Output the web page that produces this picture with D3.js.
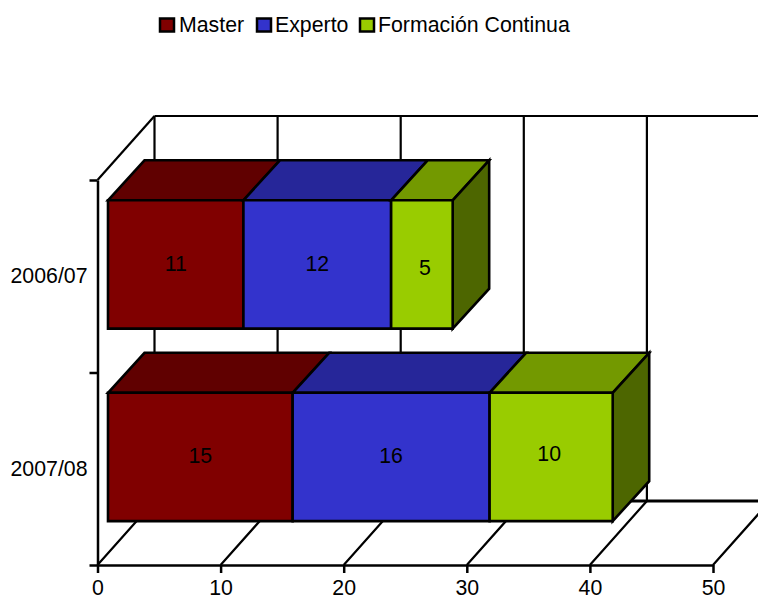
<!DOCTYPE html>
<html><head><meta charset="utf-8">
<script src="https://cdn.jsdelivr.net/npm/d3@7"></script>
<style>
html,body{margin:0;padding:0;background:#fff}
svg{display:block}
text{font-family:"Liberation Sans",Arial,sans-serif;fill:#000}
</style></head><body><div id="c"></div>
<script>
const categories = ["2006/07","2007/08"];
const seriesNames = ["Master","Experto","Formación Continua"];
const master = [11,15];
const experto = [12,16];
const formacion = [5,10];
const xTicks = [0,10,20,30,40,50];
const frontColors = ["#800000","#3333CC","#99CC00"];
const topColors = ["#600000","#262699","#739900"];
const sideColors = ["#600000","#262699","#4D6600"];

const W=758,H=597, FS=21.3;
const svg=d3.select("#c").append("svg").attr("width",W).attr("height",H);
const x=d3.scaleLinear().domain([0,50]).range([97.5,713]);
const y=d3.scaleBand().domain(categories).range([180,565]).paddingInner(1/3).paddingOuter(1/6);
const yEdges=d3.scaleLinear().domain([0,categories.length]).range([180,565]);
const dep={x:d3.scaleLinear().domain([0,1]).range([0,57]),y:d3.scaleLinear().domain([0,1]).range([0,-64])};
const P=(px,py,d)=>[px+dep.x(d),py+dep.y(d)];
const line=pts=>"M"+pts.map(p=>p.join(",")).join("L");
const wall=svg.append("g").attr("fill","none").attr("stroke","#000").attr("stroke-width",2.2);
const right=W+20;
// back wall
wall.append("path").attr("d",line([P(x(0),180,1),[right,116]]));
wall.append("path").attr("stroke-width",3).attr("d",line([P(x(0),565,1),[right,501]]));
xTicks.forEach(t=>{
  wall.append("path").attr("d",line([P(x(t),565,0),P(x(t),565,1),P(x(t),180,1)]));
});
wall.append("path").attr("d",line([P(x(0),180,0),P(x(0),180,1)]));

// axes
const gx=svg.append("g").attr("transform","translate(0,565)")
  .call(d3.axisBottom(x).tickValues(xTicks).tickSize(8).tickPadding(7).tickSizeOuter(0));
const gyT=svg.append("g").attr("transform","translate(97.5,0)")
  .call(d3.axisLeft(yEdges).tickValues(d3.range(categories.length+1)).tickSize(8).tickSizeOuter(0).tickFormat(""));
const gy=svg.append("g").attr("transform","translate(97.5,0)")
  .call(d3.axisLeft(y).tickSize(0).tickPadding(10));
gy.select(".domain").remove();
[gx,gyT].forEach(g=>g.selectAll("path,line").attr("stroke","#000").attr("stroke-width",2.5));
svg.selectAll("g text").attr("font-size",FS).attr("font-family",'"Liberation Sans",Arial,sans-serif').attr("fill","#000");

// bars
const series=[master,experto,formacion];
const D0=10.5/57, D1=47/57, barDepthY=-40;
const labelNudge={ "0,0":[0,-1], "0,1":[0,-1], "0,2":[3,3], "1,2":[-2,-3], "1,0":[0,-1], "1,1":[0,-1] };
const bars=svg.append("g").attr("stroke","#000").attr("stroke-width",2.6).attr("stroke-linejoin","miter");
const labels=svg.append("g");
categories.forEach((cat,ci)=>{
  let acc=0;
  const top=y(cat), bot=top+y.bandwidth();
  series.forEach((s,si)=>{
    const v=s[ci];
    const x0=x(acc), x1=x(acc+v);
    acc+=v;
    const fy0=top+dep.y(D0), fy1=bot+dep.y(D0);
    const fl=x0+dep.x(D0), fr=x1+dep.x(D0);
    const dd=dep.x(D1-D0), dh=barDepthY;
    bars.append("path").attr("fill",topColors[si])
      .attr("d",line([[fl,fy0],[fl+dd,fy0+dh],[fr+dd,fy0+dh],[fr,fy0]])+"Z");
    if(si===series.length-1){
      bars.append("path").attr("fill",sideColors[si])
        .attr("d",line([[fr,fy0],[fr+dd,fy0+dh],[fr+dd,fy1+dh],[fr,fy1]])+"Z");
    }
    bars.append("path").attr("fill",frontColors[si])
      .attr("d",line([[fl,fy0],[fr,fy0],[fr,fy1],[fl,fy1]])+"Z");
    const n=labelNudge[ci+","+si]||[0,0];
    labels.append("text").attr("x",(fl+fr)/2+n[0]).attr("y",(fy0+fy1)/2+n[1]).attr("dy","0.35em")
      .attr("text-anchor","middle").attr("font-size",FS).text(v);
  });
});
labels.raise();

// legend
const lx=[160,257,360], tx=[179,275,378];
const leg=svg.append("g");
seriesNames.forEach((n,i)=>{
  leg.append("rect").attr("x",lx[i]).attr("y",18.5).attr("width",14).attr("height",13)
    .attr("fill",frontColors[i]).attr("stroke","#000").attr("stroke-width",2.5);
  leg.append("text").attr("x",tx[i]).attr("y",32).attr("font-size",FS).text(n);
});
</script></body></html>
